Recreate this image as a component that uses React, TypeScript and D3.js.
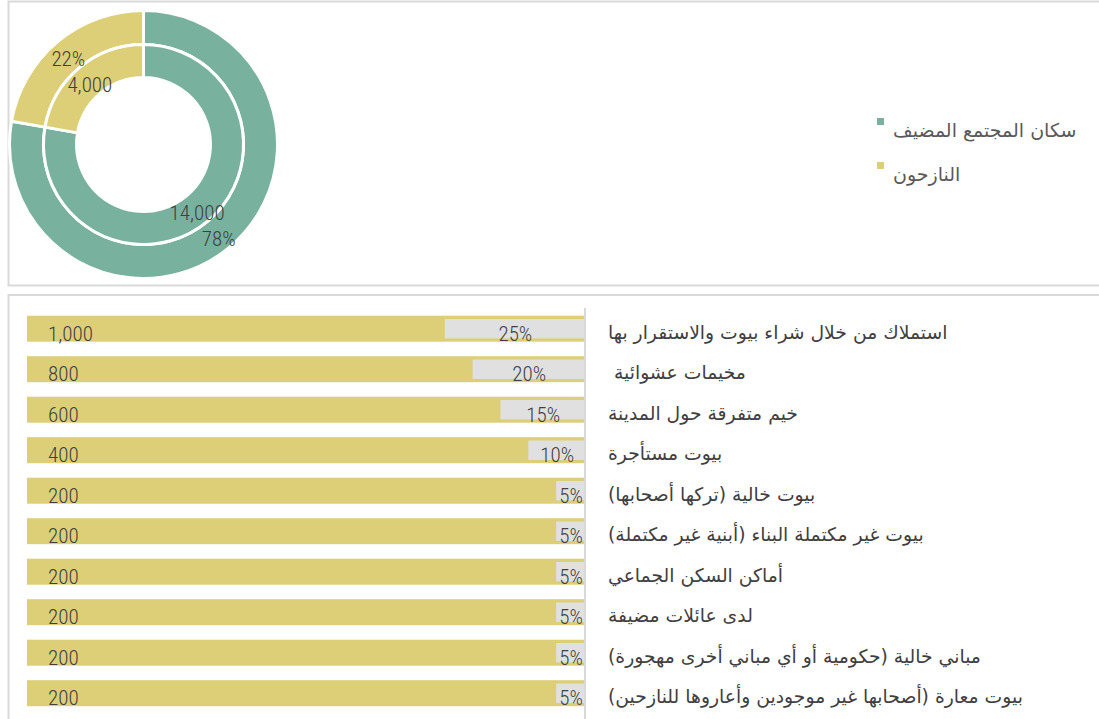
import React from 'react';
import * as d3 from 'd3';

// Donut data
const groupNames = ['سكان المجتمع المضيف', 'النازحون'];
const groupValues = [14000, 4000];

// Bar data
const categories = [
  'استملاك من خلال شراء بيوت والاستقرار بها',
  'مخيمات عشوائية ',
  'خيم متفرقة حول المدينة',
  'بيوت مستأجرة',
  'بيوت خالية (تركها أصحابها)',
  'بيوت غير مكتملة البناء (أبنية غير مكتملة)',
  'أماكن السكن الجماعي',
  'لدى عائلات مضيفة',
  'مباني خالية (حكومية أو أي مباني أخرى مهجورة)',
  'بيوت معارة (أصحابها غير موجودين وأعاروها للنازحين)',
];
const counts = [1000, 800, 600, 400, 200, 200, 200, 200, 200, 200];
const shares = [0.25, 0.2, 0.15, 0.1, 0.05, 0.05, 0.05, 0.05, 0.05, 0.05];

const GREEN = '#78B29E';
const YELLOW = '#DCCF77';
const GRAY = '#E0E0E0';
const BORDER = '#D9D9D9';
const TEXT = '#404040';
const NUMFONT = "'Roboto Condensed', 'Liberation Sans Narrow', Roboto, sans-serif";
const ARFONT = "'DejaVu Sans', 'Noto Sans', sans-serif";

export default function App() {
  const W = 1099;
  const H = 719;
  const cx = 143.5;
  const cy = 144.5;
  const colors = [GREEN, YELLOW];

  const pie = d3.pie<number>().sort(null).value((d) => d);
  const arcs = pie(groupValues);
  const total = d3.sum(groupValues);
  const outerArc = d3.arc<d3.PieArcDatum<number>>().innerRadius(100).outerRadius(134);
  const innerArc = d3.arc<d3.PieArcDatum<number>>().innerRadius(67).outerRadius(100);
  const outerLabel = d3.arc<d3.PieArcDatum<number>>().innerRadius(117).outerRadius(117);
  const innerLabel = d3.arc<d3.PieArcDatum<number>>().innerRadius(83.5).outerRadius(83.5);
  const fmt = d3.format(',');
  const pct = d3.format('.0%');

  const x = d3.scaleLinear().domain([0, 1]).range([584, 27]);
  const y = d3
    .scaleBand<string>()
    .domain(categories)
    .range([308.45, 713.45])
    .paddingInner(0.358)
    .paddingOuter(0.179);
  const bw = y.bandwidth();

  const numProps = {
    dominantBaseline: 'central' as const,
    fontFamily: NUMFONT,
    fontSize: 21,
    fontWeight: 300,
    fill: TEXT,
  };

  return (
    <svg
      width={W}
      height={H}
      style={{ position: 'absolute', left: 0, top: 0, background: '#fff' }}
    >
      {/* panels */}
      <rect x={8.5} y={1.5} width={1100} height={284} fill="#fff" stroke={BORDER} strokeWidth={2} />
      <rect x={8.5} y={295} width={1100} height={440} fill="#fff" stroke={BORDER} strokeWidth={2} />

      {/* donut */}
      <g transform={`translate(${cx},${cy})`}>
        {arcs.map((a, i) => (
          <path key={'o' + i} d={outerArc(a) || ''} fill={colors[i]} stroke="#fff" strokeWidth={3} />
        ))}
        {arcs.map((a, i) => (
          <path key={'i' + i} d={innerArc(a) || ''} fill={colors[i]} stroke="#fff" strokeWidth={3} />
        ))}
        {arcs.map((a, i) => {
          const [lx, ly] = outerLabel.centroid(a);
          return (
            <text key={'ol' + i} x={lx} y={ly + 4.5} textAnchor="middle" {...numProps}>
              {pct(a.data / total)}
            </text>
          );
        })}
        {arcs.map((a, i) => {
          const [lx, ly] = innerLabel.centroid(a);
          return (
            <text key={'il' + i} x={lx} y={ly + 4.5} textAnchor="middle" {...numProps}>
              {fmt(a.data)}
            </text>
          );
        })}
      </g>

      {/* legend */}
      {groupNames.map((n, i) => (
        <g key={'lg' + i}>
          <rect x={877} y={118 + i * 44} width={7} height={7} fill={colors[i]} />
          <text
            x={893}
            y={130 + i * 44}
            direction="rtl"
            textAnchor="end"
            dominantBaseline="central"
            fontFamily={ARFONT}
            fontSize={19}
            fill="#595959"
          >
            {n}
          </text>
        </g>
      ))}

      {/* bars */}
      {categories.map((c, i) => {
        const y0 = y(c) as number;
        const cyb = y0 + bw / 2;
        const gx = x(shares[i]);
        return (
          <g key={'b' + i}>
            <rect x={x(1)} y={y0} width={x(0) - x(1)} height={bw} fill={YELLOW} />
            <rect x={gx} y={y0 + 3.3} width={x(0) - gx} height={bw - 6.6} fill={GRAY} />
            <text x={48} y={cyb + 4.8} {...numProps}>
              {fmt(counts[i])}
            </text>
            <text x={(gx + x(0)) / 2 + 1} y={cyb + 4.8} textAnchor="middle" {...numProps}>
              {pct(shares[i])}
            </text>
            <text
              x={608}
              y={cyb + 3.5}
              direction="rtl"
              textAnchor="end"
              dominantBaseline="central"
              fontFamily={ARFONT}
              fontSize={18.8}
              fill={TEXT}
              style={{ whiteSpace: 'pre' }}
            >
              {c}
            </text>
          </g>
        );
      })}
      <line x1={585} x2={585} y1={308} y2={H + 2} stroke={BORDER} strokeWidth={2} />
    </svg>
  );
}
